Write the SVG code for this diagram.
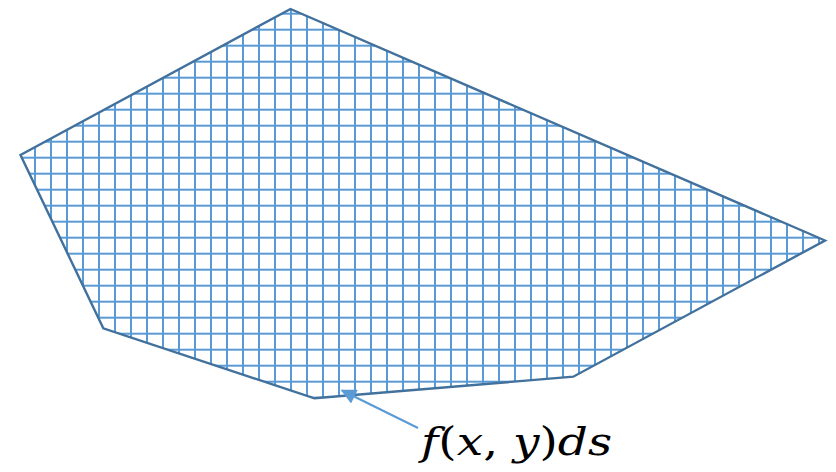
<svg xmlns="http://www.w3.org/2000/svg" width="836" height="472" viewBox="0 0 836 472">
<style>
.outline{stroke:#41719C;stroke-width:2.4;stroke-linejoin:miter}
.grid{stroke:#5B9BD5;stroke-width:2;fill:none}
.arrow{stroke:#5B9BD5;stroke-width:2.2;fill:none}
.lbl{font-family:"DejaVu Serif","Liberation Serif",serif;font-size:40px;fill:#000}
.it{font-style:italic}
</style>
<defs>
<pattern id="hatch" patternUnits="userSpaceOnUse" x="27" y="5.7" width="16" height="16">
<path class="grid" d="M0 8H16M8 0V16"/>
</pattern>
<marker id="ah" viewBox="0 0 10 10" refX="9" refY="5" markerWidth="7.5" markerHeight="7" orient="auto" markerUnits="strokeWidth">
<path d="M0 0L10 5L0 10Z" fill="#5B9BD5"/>
</marker>
</defs>
<rect width="836" height="472" fill="#fff"/>
<g id="region">
<polygon class="outline" fill="url(#hatch)" points="290.5,9 20.5,155 103.3,328.3 314.5,398.3 573.3,376.7 825,240.5"/>
</g>
<g id="connectors">
<path class="arrow" d="M418,428 L342,390.5" marker-end="url(#ah)"/>
</g>
<g id="label">
<text class="lbl" x="421" y="455" textLength="191" lengthAdjust="spacingAndGlyphs"><tspan class="it">f</tspan>(<tspan class="it">x</tspan>, <tspan class="it">y</tspan>)<tspan class="it">ds</tspan></text>
</g>
</svg>
